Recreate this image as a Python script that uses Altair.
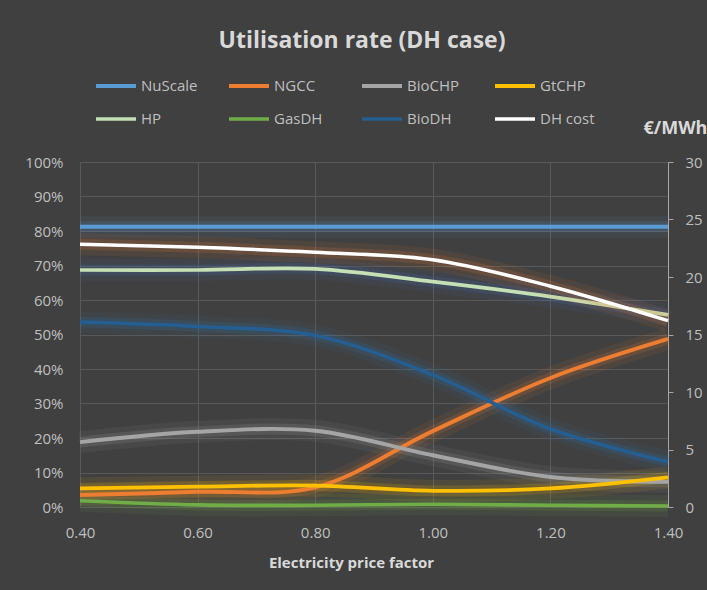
import altair as alt
import pandas as pd

# Electricity price factor (x) and utilisation rates (share of hours) per unit
price_factor = [0.40, 0.60, 0.80, 1.00, 1.20, 1.40]
nuscale = [0.812, 0.812, 0.812, 0.812, 0.812, 0.812]
ngcc = [0.035, 0.044, 0.057, 0.220, 0.374, 0.487]
bio_chp = [0.188, 0.218, 0.221, 0.150, 0.087, 0.073]
gt_chp = [0.054, 0.059, 0.062, 0.047, 0.054, 0.086]
hp = [0.687, 0.687, 0.690, 0.653, 0.610, 0.557]
gas_dh = [0.018, 0.006, 0.005, 0.008, 0.005, 0.003]
bio_dh = [0.536, 0.523, 0.497, 0.383, 0.226, 0.131]
# District heating cost, EUR/MWh (right axis)
dh_cost = [22.85, 22.58, 22.15, 21.50, 19.20, 16.20]

series = ["NuScale", "NGCC", "BioCHP", "GtCHP", "HP", "GasDH", "BioDH", "DH cost"]
line_colors = ["#5b9bd5", "#ed7d31", "#a5a5a5", "#ffc000",
               "#c5e0b4", "#70ad47", "#255e91", "#ffffff"]
halo_colors = ["#5b9bd5", "#ed7d31", "#a5a5a5", "#ffc000",
               "#4472c4", "#70ad47", "#2e75b6", "#ed7d31"]
line_widths = [4, 3.5, 3.5, 3.5, 3.5, 3.5, 3.5, 6]

rates = {"NuScale": nuscale, "NGCC": ngcc, "BioCHP": bio_chp, "GtCHP": gt_chp,
         "HP": hp, "GasDH": gas_dh, "BioDH": bio_dh}

rows = []
for name, vals in rates.items():
    for x, v in zip(price_factor, vals):
        rows.append({"factor": x, "series": name, "value": v})
pct_df = pd.DataFrame(rows)
cost_df = pd.DataFrame({"factor": price_factor, "series": "DH cost", "value": dh_cost})

BG = "#404040"
GRID = "#595959"
TXT = "#bfbfbf"
FONT = "Open Sans"

x_enc = alt.X(
    "factor:Q",
    scale=alt.Scale(domain=[0.4, 1.4], nice=False, zero=False),
    axis=alt.Axis(
        values=price_factor, format=".2f", title="Electricity price factor",
        grid=True, gridColor=GRID, domain=False, ticks=False, tickSize=0,
        labelFlush=False, labelPadding=18, labelFontSize=15, labelColor=TXT,
        labelFont=FONT, titleFontSize=15, titleFont=FONT, titleFontWeight="bold",
        titleColor="#d9d9d9", titleX=271, titleY=60, titleBaseline="alphabetic",
        titleAlign="center",
    ),
)

legend = alt.Legend(
    title=None, orient="none", legendX=14, legendY=-98, columns=4,
    direction="horizontal", gridAlign="all", columnPadding=23, rowPadding=3,
    symbolType="stroke", symbolSize=1600, symbolStrokeWidth=3.5, symbolOpacity=1,
    labelOffset=3, padding=0, labelFont=FONT, labelFontSize=15, labelColor=TXT,
    labelLimit=200,
)
color_enc = alt.Color("series:N", scale=alt.Scale(domain=series, range=line_colors), legend=legend)
width_enc = alt.StrokeWidth("series:N", scale=alt.Scale(domain=series, range=line_widths), legend=None)

y_pct = alt.Y(
    "value:Q",
    scale=alt.Scale(domain=[0, 1], nice=False),
    axis=alt.Axis(
        values=[i / 10 for i in range(11)], format=".0%", title=None,
        grid=True, gridColor=GRID, domain=False, ticks=False,
        labelPadding=17, labelFontSize=15, labelColor=TXT, labelFont=FONT,
    ),
)
y_cost = alt.Y(
    "value:Q",
    scale=alt.Scale(domain=[0, 30], nice=False),
    axis=alt.Axis(
        orient="right", values=[0, 5, 10, 15, 20, 25, 30], format="d",
        grid=False, domain=True, domainColor="#a6a6a6", ticks=True, tickSize=5,
        tickColor="#a6a6a6", labelPadding=12, labelFontSize=15, labelColor=TXT,
        labelFont=FONT, title="€/MWh", titleAngle=0, titleAlign="left",
        titleBaseline="alphabetic", titleX=-25, titleY=-29, titleFontSize=18,
        titleFont=FONT, titleFontWeight="bold", titleColor="#d9d9d9",
    ),
)

INTERP = "catmull-rom"


def halo(df, name, y, colour):
    """Two wide translucent strokes that give a curve its soft glow."""
    base = alt.Chart(df).transform_filter(alt.datum.series == name)
    wide = base.mark_line(interpolate=INTERP, strokeWidth=22, opacity=0.08, color=colour).encode(x=x_enc, y=y)
    narrow = base.mark_line(interpolate=INTERP, strokeWidth=11, opacity=0.16, color=colour).encode(x=x_enc, y=y)
    return [wide, narrow]


pct_halos = []
for name, colour in zip(series[:-1], halo_colors[:-1]):
    pct_halos += halo(pct_df, name, y_pct, colour)
cost_halos = halo(cost_df, "DH cost", y_cost, halo_colors[-1])

lines_pct = alt.Chart(pct_df).mark_line(interpolate=INTERP).encode(
    x=x_enc, y=y_pct, color=color_enc, strokeWidth=width_enc)
line_cost = alt.Chart(cost_df).mark_line(interpolate=INTERP).encode(
    x=x_enc, y=y_cost, color=color_enc, strokeWidth=width_enc)

pct_part = alt.layer(*pct_halos, lines_pct)
cost_part = alt.layer(*cost_halos, line_cost)

chart = alt.layer(pct_part, cost_part).resolve_scale(
    y="independent"
).properties(
    width=588,
    height=345,
    autosize=alt.AutoSizeParams(type="none"),
    padding={"left": 80, "top": 162, "right": 39, "bottom": 83},
    background=BG,
    title=alt.TitleParams(
        "Utilisation rate (DH case)", font=FONT, fontSize=23, fontWeight="bold",
        color="#d9d9d9", anchor="middle", frame="group", baseline="alphabetic",
        offset=18, dx=-12, dy=25,
    ),
).configure_view(
    stroke=None
)

chart.save("out.html", embed_options={"renderer": "svg", "actions": False})
